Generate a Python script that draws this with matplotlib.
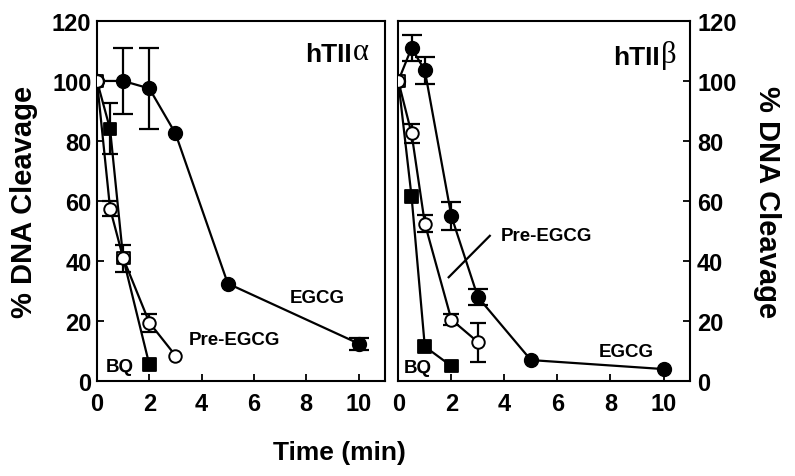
import matplotlib
matplotlib.use("Agg")
import matplotlib.pyplot as plt
import numpy as np

plt.rcParams['font.family'] = ['Liberation Sans', 'DejaVu Sans']
plt.rcParams['font.weight'] = 'bold'

# ---- hTIIalpha ----
a_egcg_t = [0, 1, 2, 3, 5, 10]
a_egcg_v = [100, 100, 97.5, 82.5, 32.5, 12.5]
a_egcg_e = [0, 11, 13.5, 0, 0, 2]

a_pre_t = [0, 0.5, 1, 2, 3]
a_pre_v = [100, 57.5, 41, 19.5, 8.5]
a_pre_e = [0, 2.5, 4.5, 3, 0]

a_bq_t = [0, 0.5, 1, 2]
a_bq_v = [100, 84, 41, 5.5]
a_bq_e = [0, 8.5, 0, 0]

# ---- hTIIbeta ----
b_egcg_t = [0, 0.5, 1, 2, 3, 5, 10]
b_egcg_v = [100, 111, 103.5, 55, 28, 7, 4]
b_egcg_e = [0, 4.3, 4.6, 4.7, 2.6, 0, 0]

b_pre_t = [0, 0.5, 1, 2, 3]
b_pre_v = [100, 82.5, 52.5, 20.5, 13]
b_pre_e = [0, 3.3, 2.8, 1.7, 6.5]

b_bq_t = [0, 0.5, 1, 2]
b_bq_v = [100, 61.5, 11.5, 5]
b_bq_e = [0, 0, 0, 0]

x_ticks = [0, 2, 4, 6, 8, 10]
y_ticks = [0, 20, 40, 60, 80, 100, 120]

fig = plt.figure(figsize=(7.95, 4.77), dpi=100)
axL = fig.add_axes([0.122, 0.199, 0.362, 0.755])
axR = fig.add_axes([0.501, 0.199, 0.367, 0.755])

LW = 1.6
def draw(ax, egcg, pre, bq):
    # EGCG (bottom layer)
    t, v, e = egcg
    ax.plot(t, v, color='black', lw=LW, zorder=2)
    eb = [x if x > 0 else np.nan for x in e]
    ax.errorbar(t, v, yerr=eb, fmt='none', ecolor='black', elinewidth=LW, capsize=7, capthick=LW, zorder=2)
    ax.plot(t, v, ls='none', marker='o', ms=10, mfc='black', mec='black', zorder=3)
    # BQ
    t, v, e = bq
    ax.plot(t, v, color='black', lw=LW, zorder=4)
    eb = [x if x > 0 else np.nan for x in e]
    ax.errorbar(t, v, yerr=eb, fmt='none', ecolor='black', elinewidth=LW, capsize=6, capthick=LW, zorder=4)
    pt, pv = pre[0], pre[1]
    hollow = [any(abs(ti - a) < 1e-9 and abs(vi - b) < 1e-9 for a, b in zip(pt, pv)) for ti, vi in zip(t, v)]
    fc = ['white' if h else 'black' for h in hollow]
    ax.scatter(t, v, marker='s', s=85, facecolors=fc, edgecolors='black', linewidths=1.3, zorder=5)
    # Pre-EGCG (top layer)
    t, v, e = pre
    ax.plot(t, v, color='black', lw=LW, zorder=6)
    eb = [x if x > 0 else np.nan for x in e]
    ax.errorbar(t, v, yerr=eb, fmt='none', ecolor='black', elinewidth=LW, capsize=6, capthick=LW, zorder=6)
    ax.plot(t, v, ls='none', marker='o', ms=9, mfc='white', mec='black', mew=1.4, zorder=7)

    ax.set_xlim(0, 11)
    ax.set_ylim(0, 120)
    ax.set_xticks(x_ticks)
    ax.set_yticks(y_ticks)
    for s in ax.spines.values():
        s.set_linewidth(1.5)
    ax.tick_params(direction='in', length=5, width=1.3, labelsize=17)
    ax.tick_params(axis='x', pad=8)

draw(axL, (a_egcg_t, a_egcg_v, a_egcg_e), (a_pre_t, a_pre_v, a_pre_e), (a_bq_t, a_bq_v, a_bq_e))
draw(axR, (b_egcg_t, b_egcg_v, b_egcg_e), (b_pre_t, b_pre_v, b_pre_e), (b_bq_t, b_bq_v, b_bq_e))

axL.tick_params(axis='y', pad=4)
axR.yaxis.tick_right()
axR.tick_params(axis='y', left=False, right=True, labelleft=False, labelright=True, pad=5)

axL.set_ylabel('% DNA Cleavage', fontsize=21, fontweight='bold', labelpad=10)
axR.yaxis.set_label_position('right')
axR.set_ylabel('% DNA Cleavage', fontsize=21, fontweight='bold', rotation=270, labelpad=32)

fig.text(339/795, 1 - 453/477, 'Time (min)', ha='center', va='center', fontsize=19, fontweight='bold')

# Panel labels: bold sans "hTII" followed by a serif Greek letter
def panel_label(ax, x, y, greek):
    t = ax.text(x, y, 'hTII', transform=ax.transAxes, ha='right', va='baseline', fontsize=19, fontweight='bold')
    ax.annotate(greek, xy=(1, 0), xycoords=t, xytext=(1, 0), textcoords='offset points',
                ha='left', va='bottom', fontsize=22, fontweight='normal',
                family=['Liberation Serif', 'DejaVu Serif'])

panel_label(axL, 0.885, 0.89, 'α')
panel_label(axR, 0.895, 0.88, 'β')

fs = 13.5
axL.text(8.4, 28, 'EGCG', ha='center', va='center', fontsize=fs, fontweight='bold')
axL.text(5.27, 14, 'Pre-EGCG', ha='center', va='center', fontsize=fs, fontweight='bold')
axL.text(0.88, 5, 'BQ', ha='center', va='center', fontsize=fs, fontweight='bold')

axR.text(8.6, 10, 'EGCG', ha='center', va='center', fontsize=fs, fontweight='bold')
axR.text(5.6, 48.5, 'Pre-EGCG', ha='center', va='center', fontsize=fs, fontweight='bold')
axR.plot([3.45, 1.9], [48.4, 34.6], color='black', lw=1.6)
axR.text(0.72, 4.5, 'BQ', ha='center', va='center', fontsize=fs, fontweight='bold')

fig.savefig('out.png', dpi=100)
